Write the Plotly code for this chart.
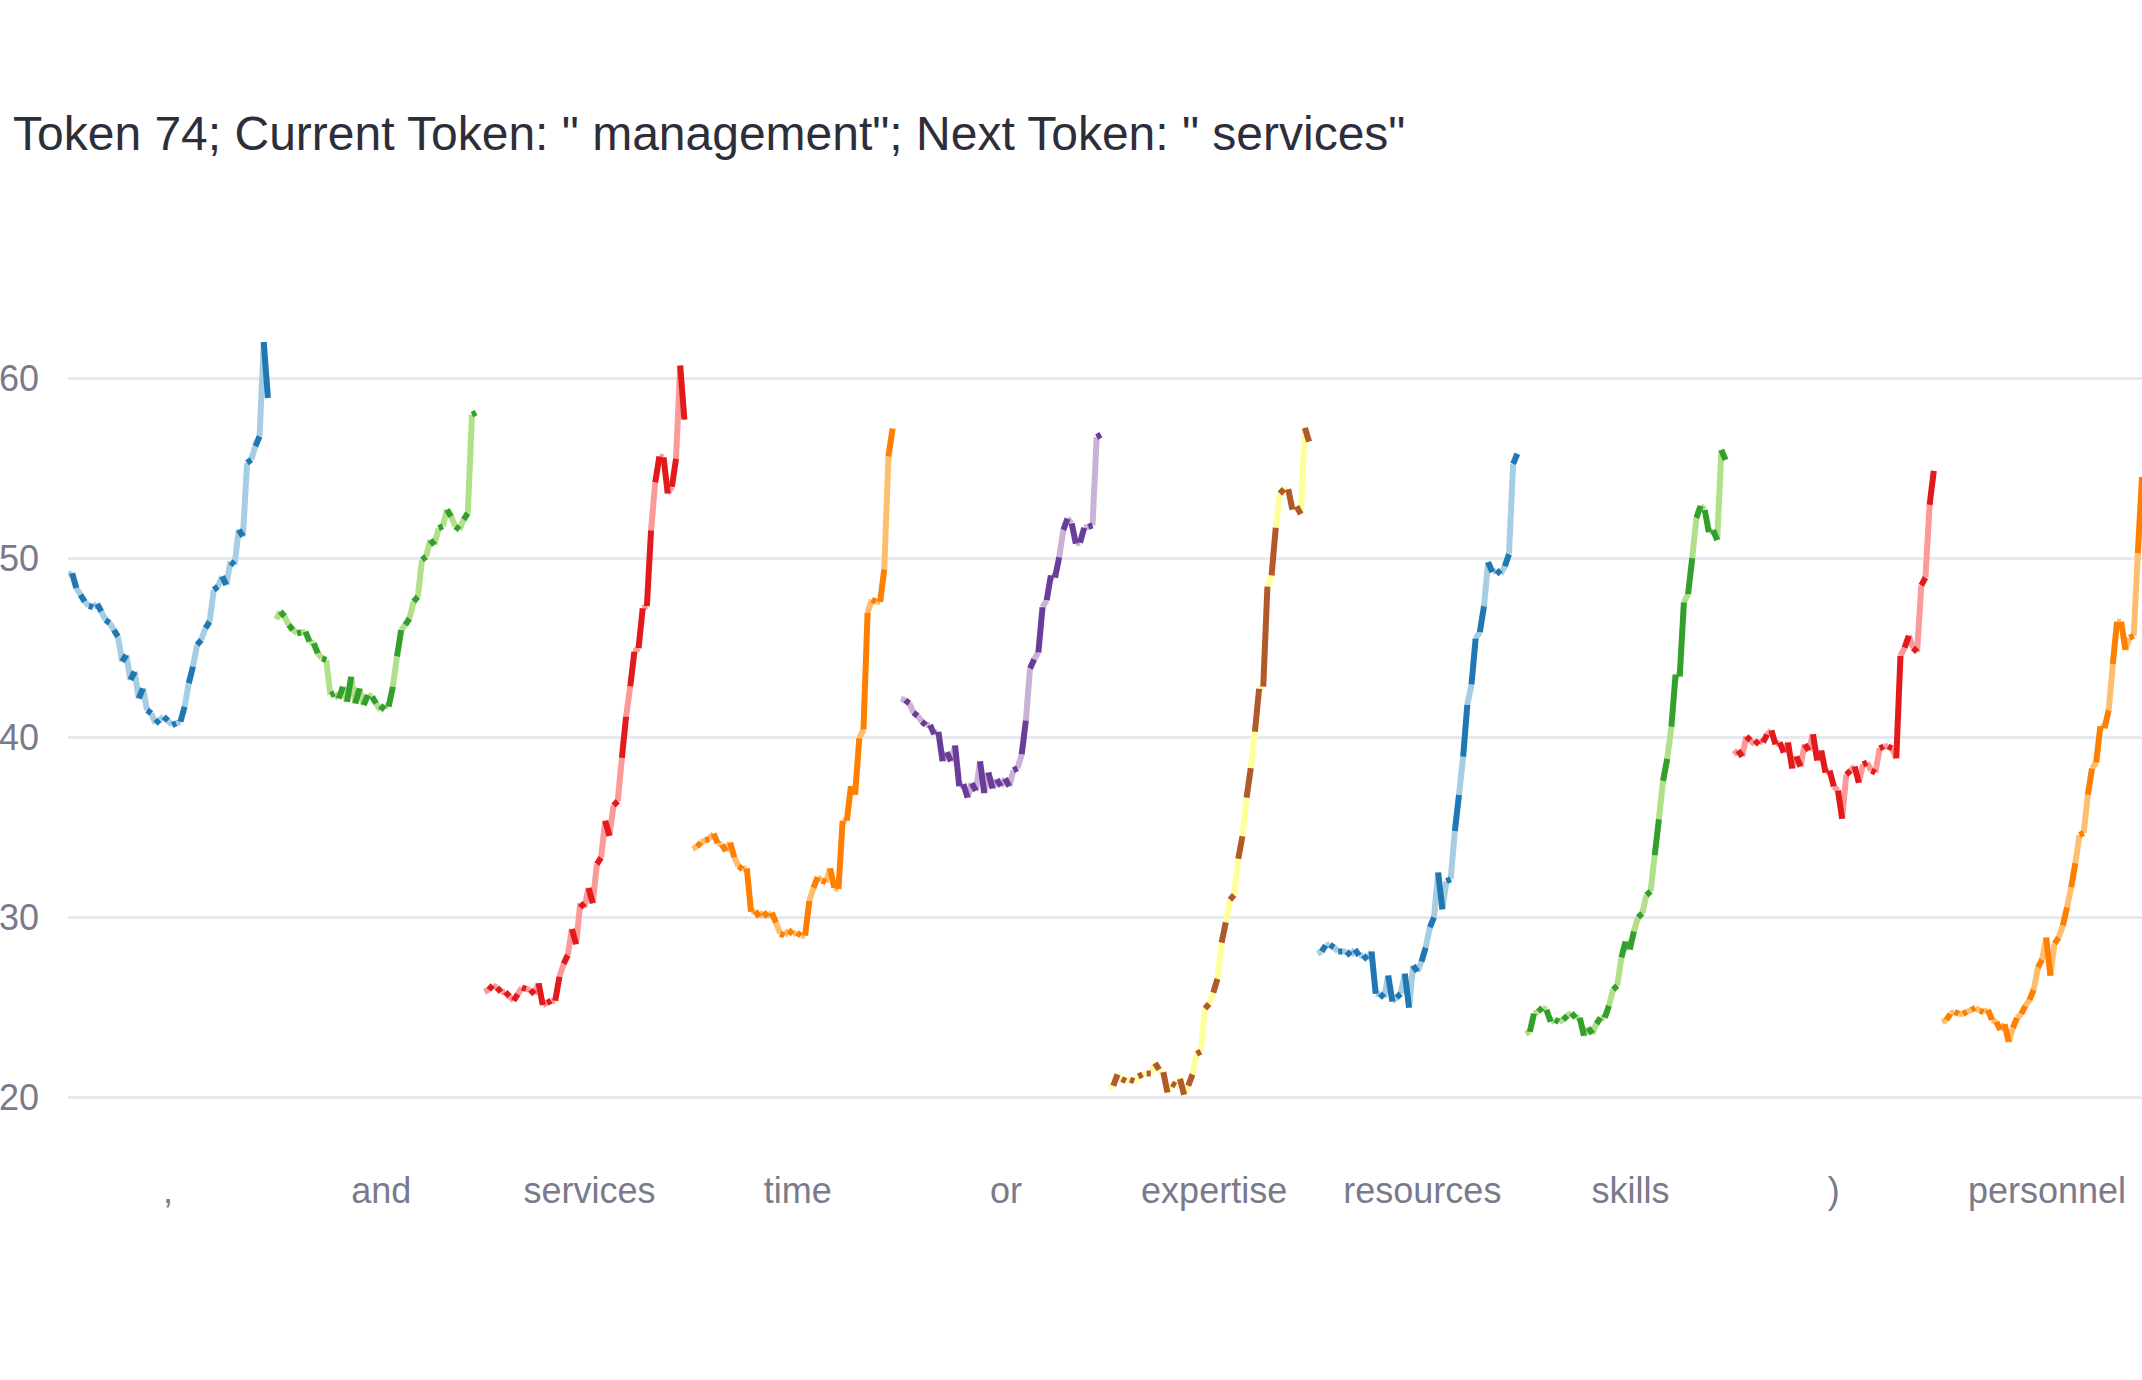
import plotly.graph_objects as go

# ---- data ----
tokens = [",", " and", " services", " time", " or", " expertise", " resources", " skills", ")", " personnel"]

comma_vals = [49.07, 49.16, 48.33, 47.96, 47.58, 47.34, 47.27, 47.45, 47.03, 46.56, 46.38, 46.00, 45.63,
              44.24, 44.61, 43.22, 43.68, 42.19, 42.75, 41.54, 41.36, 40.80, 40.99, 41.17, 40.95, 40.71,
              40.80, 40.89, 41.73, 43.03, 43.96, 45.17, 45.45, 46.10, 46.47, 48.23, 48.42, 48.98, 48.51,
              49.81, 49.63, 51.58, 51.21, 55.30, 55.48, 56.23, 56.78, 62.03, 58.92]
and_vals = [46.60, 47.03, 46.75, 46.28, 46.00, 45.82, 45.86, 45.91, 45.35, 45.26, 44.70, 44.42, 44.33,
            42.38, 42.47, 42.19, 42.84, 42.00, 43.40, 41.91, 42.75, 41.82, 42.38, 42.29, 41.91, 41.54,
            41.82, 41.73, 42.84, 44.52, 46.00, 46.28, 46.65, 47.58, 47.86, 49.91, 50.09, 51.02, 50.74,
            51.67, 51.77, 52.70, 52.32, 51.77, 51.58, 52.14, 52.51, 57.99, 58.10]
services_vals = [25.85, 25.97, 26.21, 26.09, 25.85, 25.85, 25.60, 25.36, 25.73, 26.09, 26.02, 25.97, 25.73,
                 26.33, 25.12, 25.24, 25.36, 25.36, 26.69, 27.41, 27.90, 29.35, 28.50, 30.79, 30.55, 31.64,
                 30.79, 32.97, 33.33, 35.38, 34.54, 36.23, 36.47, 38.88, 41.17, 42.86, 44.79, 44.99, 47.21,
                 47.33, 51.55, 54.21, 55.66, 55.61, 53.60, 53.97, 55.53, 60.72, 57.71]
time_vals = [33.81, 33.93, 34.17, 34.29, 34.37, 34.66, 34.13, 34.05, 33.69, 34.17, 33.33, 32.85, 32.68,
             32.73, 30.31, 30.36, 30.02, 30.31, 30.02, 30.26, 29.71, 29.10, 28.98, 29.30, 29.06, 29.15,
             28.98, 28.98, 30.92, 31.64, 32.24, 32.05, 31.95, 32.73, 31.64, 31.57, 35.38, 35.38, 37.31,
             36.83, 39.97, 40.45, 46.97, 47.69, 47.57, 47.57, 49.38, 55.66, 57.22]
or_vals = [42.17, 42.10, 41.92, 41.41, 41.21, 40.91, 40.71, 40.71, 40.20, 40.33, 38.69, 39.19, 38.69,
           39.57, 37.30, 37.42, 36.67, 37.47, 37.05, 38.69, 36.92, 38.06, 37.17, 37.68, 37.30, 37.73,
           37.30, 38.18, 38.31, 39.07, 40.96, 43.86, 44.37, 44.75, 47.27, 47.65, 49.04, 48.91, 50.05,
           51.57, 52.20, 51.94, 50.81, 50.86, 51.69, 51.74, 51.82, 56.74, 56.87]
expertise_vals = [20.51, 20.63, 21.26, 21.01, 20.88, 20.96, 20.88, 21.14, 21.26, 21.31, 21.31, 21.89, 21.52,
                  21.39, 20.25, 20.76, 20.63, 21.01, 20.13, 20.63, 21.26, 22.40, 22.53, 24.92, 25.18, 25.81,
                  26.57, 28.59, 29.72, 30.98, 31.24, 33.26, 34.52, 36.67, 38.31, 40.33, 42.73, 42.85, 48.41,
                  49.04, 51.69, 53.59, 53.84, 53.84, 52.70, 52.88, 52.45, 57.25, 56.49]
resources_vals = [27.99, 28.10, 28.44, 28.48, 28.32, 28.10, 28.10, 28.10, 27.88, 28.21, 27.88, 27.88, 27.65,
                  28.10, 25.75, 25.75, 25.53, 26.76, 25.31, 25.53, 25.75, 26.87, 24.97, 27.32, 26.98, 27.54,
                  28.32, 29.44, 30.00, 32.50, 30.45, 32.01, 32.12, 34.80, 36.82, 38.94, 41.84, 42.96, 45.53,
                  45.87, 47.32, 49.78, 49.22, 49.33, 49.11, 49.55, 50.22, 55.25, 55.81]
skills_vals = [23.52, 23.63, 24.64, 24.75, 24.97, 24.86, 24.19, 24.30, 24.19, 24.30, 24.53, 24.68, 24.41,
               24.41, 23.41, 23.85, 23.52, 24.08, 24.41, 24.41, 25.08, 25.98, 26.20, 27.77, 28.66, 28.21,
               29.22, 30.00, 30.22, 31.23, 31.45, 33.46, 35.47, 37.60, 38.83, 40.61, 43.52, 43.41, 47.54,
               47.99, 50.00, 52.23, 52.91, 52.68, 51.45, 51.56, 51.01, 56.03, 55.47]
paren_vals = [39.07, 39.29, 38.96, 40.08, 39.85, 39.63, 39.85, 39.74, 40.19, 40.41, 39.63, 39.74, 39.18,
              39.74, 38.29, 38.96, 38.40, 39.63, 39.29, 40.19, 38.73, 39.29, 38.06, 38.17, 37.28, 37.06,
              35.49, 37.95, 38.17, 38.40, 37.50, 38.51, 38.62, 38.17, 38.06, 39.41, 39.52, 39.52, 39.41,
              38.85, 44.56, 45.01, 45.68, 45.01, 44.78, 48.48, 48.92, 52.96, 54.86]
personnel_vals = [24.18, 24.29, 24.63, 24.74, 24.63, 24.63, 24.74, 24.85, 24.96, 24.80, 24.74, 24.85, 24.29,
                  24.18, 23.73, 24.06, 23.07, 23.84, 24.40, 24.63, 25.07, 25.41, 25.97, 27.20, 27.65, 28.88,
                  26.75, 28.54, 28.88, 29.55, 30.56, 31.68, 33.02, 34.59, 34.70, 36.83, 38.29, 38.62, 40.64,
                  40.53, 41.53, 44.11, 46.46, 46.46, 44.89, 45.57, 45.68, 50.27, 54.52]

series = [comma_vals, and_vals, services_vals, time_vals, or_vals,
          expertise_vals, resources_vals, skills_vals, paren_vals, personnel_vals]

# ---- style ----
pairs = [("#a6cee3", "#1f78b4"), ("#b2df8a", "#33a02c"), ("#fb9a99", "#e31a1c"),
         ("#fdbf6f", "#ff7f00"), ("#cab2d6", "#6a3d9a"), ("#ffff99", "#b15928")]
GROUP = 50  # x units reserved per token (points + gap)

fig = go.Figure()
for i, vals in enumerate(series):
    light, dark = pairs[i % len(pairs)]
    xs = [i * GROUP + j for j in range(len(vals))]
    for parity, col in ((0, light), (1, dark)):
        sx, sy = [], []
        for k in range(parity, len(vals) - 1, 2):
            sx += [xs[k], xs[k + 1], None]
            sy += [vals[k], vals[k + 1], None]
        fig.add_trace(go.Scatter(x=sx, y=sy, mode="lines",
                                 line=dict(color=col, width=6),
                                 hoverinfo="skip", showlegend=False))

n_pts = len(series[0])
tickvals = [i * GROUP + (n_pts - 1) / 2 for i in range(len(tokens))]

fig.update_layout(
    width=2142, height=1380,
    paper_bgcolor="white", plot_bgcolor="white",
    margin=dict(l=68, r=0, t=301, b=240),
    font=dict(family="Liberation Sans, Arial, sans-serif", size=36, color="#7a7a8c"),
    title=dict(text='Token 74; Current Token: " management"; Next Token: " services"',
               font=dict(size=48, color="#2e2e3a", family="Liberation Sans, Arial, sans-serif"),
               x=13 / 2142, xanchor="left", xref="container",
               y=1 - 133.5 / 1380, yanchor="middle", yref="container"),
    showlegend=False,
)
fig.update_xaxes(range=[0, (len(tokens) - 1) * GROUP + n_pts - 1],
                 tickmode="array", tickvals=tickvals, ticktext=tokens,
                 showgrid=False, zeroline=False, showline=False, ticks="",
                 ticklabelstandoff=26)
fig.update_yaxes(range=[17.606, 64.315], dtick=10, tick0=0,
                 showgrid=True, gridcolor="#e8e9ef", gridwidth=3,
                 zeroline=False, showline=False, ticks="",
                 ticklabelstandoff=28)

fig.write_html("out.html")
